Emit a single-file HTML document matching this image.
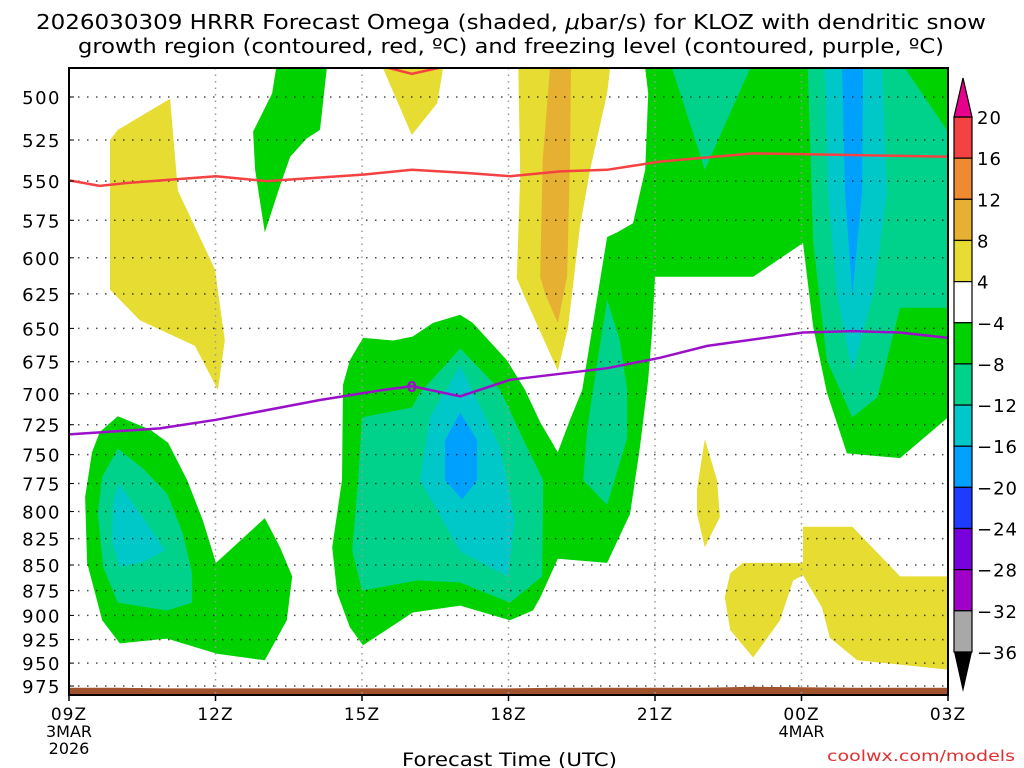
<!DOCTYPE html>
<html><head><meta charset="utf-8"><style>
body{margin:0;background:#fff}
svg{display:block;font-family:"DejaVu Sans","Liberation Sans",sans-serif}
</style></head><body>
<svg id="chart" width="1024" height="768" viewBox="0 0 1024 768" xmlns="http://www.w3.org/2000/svg">
<text x="36" y="29" font-size="20" textLength="950" lengthAdjust="spacingAndGlyphs">2026030309 HRRR Forecast Omega (shaded, <tspan font-style="italic">μ</tspan>bar/s) for KLOZ with dendritic snow</text>
<text x="78" y="53" font-size="20" textLength="866" lengthAdjust="spacingAndGlyphs">growth region (contoured, red, ºC) and freezing level (contoured, purple, ºC)</text>
<g id="fills"></g>
<g id="grid"></g>
<g id="lines"></g>
<g id="axes"></g>
<g id="cbar"></g>
<text x="402" y="766" font-size="19" textLength="215" lengthAdjust="spacingAndGlyphs">Forecast Time (UTC)</text>
<text x="827" y="761" font-size="15" fill="#e03030" textLength="188" lengthAdjust="spacingAndGlyphs">coolwx.com/models</text>
</svg>
<script>
const xTickHours=[0,3,6,9,12,15,18];
const xTickLabels=["09Z","12Z","15Z","18Z","21Z","00Z","03Z"];
const yTicks=[500,525,550,575,600,625,650,675,700,725,750,775,800,825,850,875,900,925,950,975];
const cbarLabels=["20","16","12","8","4","\u22124","\u22128","\u221212","\u221216","\u221220","\u221224","\u221228","\u221232","\u221236"];
const cbarColors=["#f44242","#f08a30","#e6b032","#e6dc32","#ffffff","#00d200","#00d28c","#00c8c8","#00a0ff","#1e3cff","#7800dc","#a000c8","#a8a8a8"];
const yellowLeft=[[1.0,519],[2.07,501],[2.23,556],[2.99,608],[3.19,659],[3.05,697],[2.58,663],[1.45,644],[0.84,622],[0.84,525]];
const greenTopSmall=[[4.24,484],[5.28,484],[5.14,519],[4.87,524],[4.53,535],[4.32,553],[4.01,583],[3.81,543],[3.77,520],[4.16,498]];
const yellowTopMid=[[6.43,484],[7.66,484],[7.54,503.5],[7.02,522]];
const yellowTall=[[9.2,484],[11.08,484],[11.02,498],[10.67,543],[10.46,580],[10.22,649],[10.01,682],[9.3,625],[9.17,614],[9.24,547]];
const orangeTall=[[9.85,484],[10.28,484],[10.26,537],[10.2,613],[10.01,646],[9.75,625],[9.65,613],[9.7,537]];
const greenLeft=[[0.63,731],[1.0,718],[1.66,729],[2.03,740],[2.42,772],[2.74,808],[3.01,848],[4.01,806],[4.32,833],[4.57,861],[4.46,905],[4.01,947],[3.03,940],[2.01,924],[1.04,929],[0.68,905],[0.37,848],[0.33,787],[0.47,748]];
const tealLeft=[[1.0,745],[1.52,762],[2.01,784],[2.33,820],[2.52,858],[2.52,887],[2.01,895],[1.0,887],[0.7,852],[0.59,802],[0.68,769]];
const cyanLeft=[[1.02,775],[1.6,811],[1.97,836],[1.52,847],[1.04,852],[0.88,827],[0.9,793]];
const greenMain=[[5.61,693],[5.75,674],[6.02,657],[6.64,659],[7.04,656],[7.45,646],[8.01,640],[8.27,646],[8.97,674],[9.34,697],[9.65,723],[10.01,748],[10.26,721],[10.51,697],[11.02,586],[11.22,583],[11.55,577],[11.8,543],[11.86,498],[11.8,484],[18,484],[18,719],[17.02,753],[15.93,749],[15.52,699],[15.24,649],[15.03,590],[14.01,613],[12.0,613],[11.94,652],[11.86,689],[11.69,744],[11.49,802],[11.02,848],[10.01,844],[9.65,882],[9.5,895],[9.03,905],[8.01,890],[7.04,897],[6.02,931],[5.75,912],[5.49,877],[5.39,833],[5.59,772]];
const tealStrip=[[11.02,629],[11.28,659],[11.43,697],[11.43,736],[11.02,794],[10.53,772],[10.61,729],[10.73,697]];
const tealMid=[[6.0,719],[7.02,711],[7.19,699],[8.01,665],[8.83,697],[9.38,744],[9.71,772],[9.69,861],[9.03,887],[8.01,867],[7.13,865],[6.0,875],[5.8,836],[5.92,772]];
const cyanMid=[[8.01,678],[8.83,744],[9.13,808],[8.99,861],[8.01,837],[7.19,772],[7.39,719]];
const blueMid=[[8.01,715],[8.36,738],[8.36,772],[8.05,789],[7.7,772],[7.7,738]];
const tealTopMid=[[12.35,484],[13.95,484],[13.02,543]];
const tealRight=[[15.13,484],[17.12,484],[18,520],[18,635],[17.02,635],[16.55,703],[16.04,719],[15.52,674],[15.24,590]];
const cyanRight=[[15.48,484],[16.65,484],[16.75,557],[16.47,625],[16.04,683],[15.73,625],[15.54,557]];
const blueRight=[[15.83,484],[16.26,484],[16.24,557],[16.04,626],[15.89,557]];
const yellowSmall=[[13.02,737],[13.27,772],[13.33,805],[13.02,833],[12.86,802],[12.86,780]];
const yellowBR=[[15.03,814],[16.04,814],[17.02,861],[18,861],[18,957],[16.14,947],[15.58,923],[15.42,892],[15.03,860],[14.83,865],[14.56,905],[14.01,944],[13.54,915],[13.43,882],[13.54,858],[13.8,848],[15.03,848]];
const redLine=[[0,549.5],[0.63,553],[1.25,551],[3.01,547],[4.05,550],[6.02,546],[7.02,543],[8.15,545],[9.03,547],[10.06,544],[11.02,543],[12.1,538],[14.01,533],[16,534],[18,535]];
const redTop=[[6.43,483],[7.02,487],[7.7,483]];
const purpleLine=[[0,733],[1.86,728],[3.01,721],[5.14,705],[6.43,697],[7.02,694],[8.01,702],[9.03,689],[11.02,680],[12.1,672],[13.07,663],[15.03,653],[16.06,652],[17.02,653],[18,657]];
const terrainHours=[0,1,2,3,4,5,6,7,8,9,10,11,12,13,14,15,16,17,18];
const terrainP=[977,977,977.6,977.6,977.6,977.6,977.6,977.6,977.6,977.6,977,977,977,977,975.8,976.4,977,977,977];

const NS="http://www.w3.org/2000/svg";
const X0=69,X1=948,Y0=68,Y1=695;
function xs(h){return X0+h*(X1-X0)/18;}
function ys(p){return 97+Math.log(p/500)*882;}
function mk(tag,attrs,parent){const e=document.createElementNS(NS,tag);for(const k in attrs)e.setAttribute(k,attrs[k]);parent.appendChild(e);return e;}
const svg=document.getElementById('chart');
const fills=document.getElementById('fills'),grid=document.getElementById('grid'),lines=document.getElementById('lines'),axes=document.getElementById('axes'),cbar=document.getElementById('cbar');
function pts(a){return a.map(d=>xs(d[0]).toFixed(1)+','+ys(d[1]).toFixed(1)).join(' ');}
function poly(a,color,name){const e=mk('polygon',{points:pts(a),fill:color},fills);

}
const cp=mk('clipPath',{id:'clip'},svg);
mk('rect',{x:X0,y:Y0,width:X1-X0,height:Y1-Y0},cp);
fills.setAttribute('clip-path','url(#clip)');lines.setAttribute('clip-path','url(#clip)');
const G="#00d200",T="#00d28c",C="#00c8c8",B="#00a0ff",Yl="#e6dc32",O="#e6b032";
poly(yellowLeft,Yl,'yellow-region-left');
poly(greenTopSmall,G,'green-region-top');
poly(yellowTopMid,Yl,'yellow-region-top');
poly(yellowTall,Yl,'yellow-region-tall');
poly(orangeTall,O,'orange-region');
poly(greenLeft,G,'green-region-left');
poly(tealLeft,T,'teal-region-left');
poly(cyanLeft,C,'cyan-region-left');
poly(greenMain,G,'green-region-main');
poly(tealStrip,T,'teal-region-strip');
poly(tealMid,T,'teal-region-mid');
poly(cyanMid,C,'cyan-region-mid');
poly(blueMid,B,'blue-region-mid');
poly(tealTopMid,T,'teal-region-top');
poly(tealRight,T,'teal-region-right');
poly(cyanRight,C,'cyan-region-right');
poly(blueRight,B,'blue-region-right');
poly(yellowSmall,Yl,'yellow-region-small');
poly(yellowBR,Yl,'yellow-region-bottom-right');
const tp=terrainHours.map((h,i)=>[h,terrainP[i]]).concat([[18,1000],[0,1000]]);
poly(tp,'#a0522d','terrain');
yTicks.forEach(p=>{const e=mk('line',{x1:X0,x2:X1,y1:ys(p),y2:ys(p),stroke:'#000','stroke-width':1.5,'stroke-dasharray':'1.5 7.5',opacity:0.7},grid);

});
xTickHours.slice(1,-1).forEach(h=>{const e=mk('line',{x1:xs(h),x2:xs(h),y1:Y0,y2:Y1,stroke:'#999','stroke-width':1.5,'stroke-dasharray':'1.5 5'},grid);

});
function pl(a,color,name){const e=mk('polyline',{points:pts(a),fill:'none',stroke:color,'stroke-width':2.5},lines);

}
pl(redLine,'#f44242','dgz-contour');
pl(redTop,'#f44242','dgz-contour-top');
pl(purpleLine,'#9a10c8','freezing-level-contour');
const lbl=mk('text',{x:xs(7.02),y:ys(694)+6,'font-size':15,fill:'#9a10c8','text-anchor':'middle','font-weight':'bold'},lines);lbl.textContent='0';


mk('rect',{x:X0,y:Y0,width:X1-X0,height:Y1-Y0,fill:'none',stroke:'#000','stroke-width':2},axes);
yTicks.forEach(p=>{const t=mk('text',{x:61,y:ys(p)+7,'font-size':18,'text-anchor':'end','letter-spacing':1.5},axes);t.textContent=p;


mk('line',{x1:X0,x2:X0+5,y1:ys(p),y2:ys(p),stroke:'#000','stroke-width':1},axes);});
xTickHours.forEach((h,i)=>{const t=mk('text',{x:xs(h),y:720,'font-size':17,'text-anchor':'middle','letter-spacing':1},axes);t.textContent=xTickLabels[i];


mk('line',{x1:xs(h),x2:xs(h),y1:Y1,y2:Y1+6,stroke:'#000','stroke-width':1.5},axes);});
[["3MAR",xs(0),737],["2026",xs(0),754],["4MAR",xs(15),737]].forEach(d=>{const t=mk('text',{x:d[1],y:d[2],'font-size':16,'text-anchor':'middle'},axes);t.textContent=d[0];

});
const CX=954,CW=18,CT=117,CH=41.15;
cbarColors.forEach((c,i)=>{const r=mk('rect',{x:CX,y:CT+i*CH,width:CW,height:CH,fill:c,stroke:'#000','stroke-width':1.2},cbar);

});
const up=mk('polygon',{points:`${CX},${CT} ${CX+CW},${CT} ${CX+CW/2},${78}`,fill:'#e6008c',stroke:'#000','stroke-width':1.2},cbar);


const dn=mk('polygon',{points:`${CX},${CT+13*CH} ${CX+CW},${CT+13*CH} ${CX+CW/2},${692}`,fill:'#000'},cbar);


cbarLabels.forEach((s,i)=>{const t=mk('text',{x:977,y:CT+i*CH+7,'font-size':18,'letter-spacing':1},cbar);t.textContent=s;

});
</script>
</body></html>
